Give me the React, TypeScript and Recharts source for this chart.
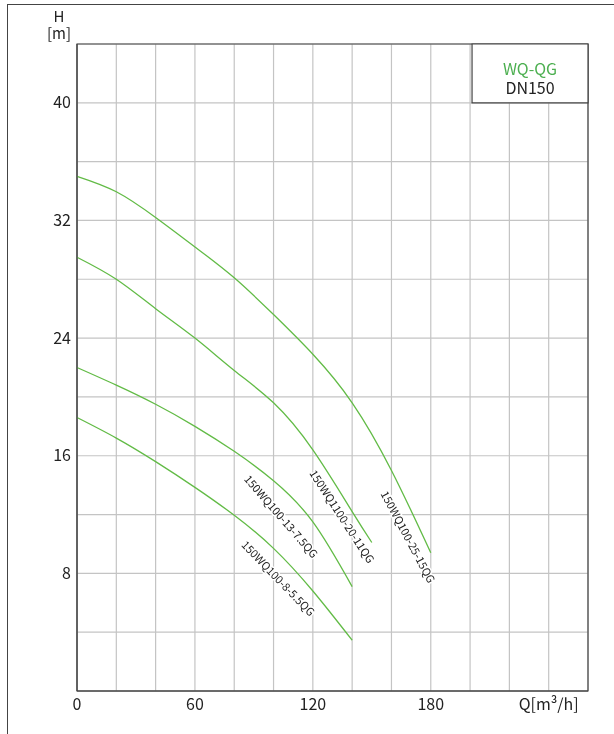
import React from "react";
import { LineChart, Line, XAxis, YAxis, CartesianGrid, ReferenceArea, ReferenceDot } from "recharts";

const FONT = '"Noto Sans CJK SC", "Noto Sans", sans-serif';

const q25 = [0, 20, 40, 60, 80, 100, 120, 140, 160, 180];
const h25 = [35, 33.95, 32.2, 30.2, 28.1, 25.6, 22.9, 19.6, 15.0, 9.4];
const q20 = [0, 20, 40, 60, 80, 100, 120, 140, 150];
const h20 = [29.5, 28.0, 26.0, 24.0, 21.8, 19.6, 16.4, 12.2, 10.1];
const q13 = [0, 20, 40, 60, 80, 100, 120, 140];
const h13 = [22.0, 20.8, 19.5, 18.0, 16.3, 14.3, 11.5, 7.1];
const q8 = [0, 20, 40, 60, 80, 100, 120, 140];
const h8 = [18.6, 17.2, 15.6, 13.85, 11.95, 9.7, 6.8, 3.45];

const curveNames = ["150WQ100-25-15QG", "150WQ1100-20-11QG", "150WQ100-13-7.5QG", "150WQ100-8-5.5QG"];
const labelQ = [168.8, 135.2, 104.2, 102.7];
const labelH = [10.5, 11.9, 11.9, 7.7];
const labelAngle = [62, 57, 49, 46];

const xTicks = [0, 20, 40, 60, 80, 100, 120, 140, 160, 180, 200, 220, 240, 260];
const yTicks = [0, 4, 8, 12, 16, 20, 24, 28, 32, 36, 40, 44];

const legendTitle = "WQ-QG";
const legendSub = "DN150";
const xAxisTitle = "Q[m³/h]";

const toData = (q: number[], h: number[]) => q.map((x, i) => ({ q: x, h: h[i] }));
const series = [toData(q25, h25), toData(q20, h20), toData(q13, h13), toData(q8, h8)];

const GREEN = "#62bb46";

export default function App() {
  return (
    <>
      <div
        style={{
          position: "fixed",
          left: 7,
          top: 4,
          width: 700,
          height: 800,
          borderLeft: "1.5px solid #444",
          borderTop: "1.5px solid #444",
          boxSizing: "border-box",
        }}
      />
      <div style={{ position: "fixed", left: 0, top: 0, width: 614, height: 734 }}>
        <LineChart width={614} height={734} margin={{ top: 44, right: 26, bottom: 13, left: 37 }}>
          <CartesianGrid stroke="#c4c4c4" strokeWidth={1.2} />
          <XAxis
            type="number"
            dataKey="q"
            domain={[0, 260]}
            ticks={xTicks}
            interval={0}
            height={30}
            stroke="#444"
            tickLine={false}
            tick={{ fill: "#222", fontSize: 16, fontFamily: FONT }}
            tickFormatter={(v: number) => (v === 240 ? xAxisTitle : v % 60 === 0 && v <= 180 ? String(v) : "")}
          />
          <YAxis
            type="number"
            dataKey="h"
            domain={[0, 44]}
            ticks={yTicks}
            interval={0}
            width={40}
            stroke="#444"
            tickLine={false}
            tickMargin={0}
            tick={{ fill: "#222", fontSize: 16, fontFamily: FONT }}
            tickFormatter={(v: number) => (v % 8 === 0 && v > 0 && v < 44 ? String(v) : "")}
            label={{
              content: (p: any) => {
                const vb = p.viewBox || { x: 37, y: 44, width: 40 };
                const cx = vb.x + vb.width - 18;
                return (
                  <g>
                    <text x={cx} y={vb.y - 22} textAnchor="middle" fontSize={15} fill="#222" fontFamily={FONT}>
                      H
                    </text>
                    <text x={cx} y={vb.y - 5} textAnchor="middle" fontSize={15} fill="#222" fontFamily={FONT}>
                      [m]
                    </text>
                  </g>
                );
              },
            }}
          />
          <ReferenceArea x1={0} x2={260} y1={0} y2={44} fill="none" fillOpacity={0} stroke="#444" strokeWidth={1.2} />
          <ReferenceArea x1={201} x2={260} y1={40} y2={44} fill="#fff" fillOpacity={1} stroke="#444" strokeWidth={1.2} />
          <ReferenceDot
            x={230.5}
            y={42}
            r={0}
            shape={(p: any) => (
              <g>
                <text x={p.cx} y={p.cy + 2} textAnchor="middle" fontSize={16} fill="#4caf50" fontFamily={FONT}>
                  {legendTitle}
                </text>
                <text x={p.cx} y={p.cy + 21} textAnchor="middle" fontSize={16} fill="#222" fontFamily={FONT}>
                  {legendSub}
                </text>
              </g>
            )}
          />
          {series.map((d, i) => (
            <Line
              key={curveNames[i]}
              data={d}
              dataKey="h"
              type="natural"
              stroke={GREEN}
              strokeWidth={1.3}
              dot={false}
              activeDot={false}
              isAnimationActive={false}
            />
          ))}
          {curveNames.map((name, i) => (
            <ReferenceDot
              key={"lbl" + name}
              x={labelQ[i]}
              y={labelH[i]}
              r={0}
              shape={(p: any) => (
                <text
                  x={p.cx}
                  y={p.cy}
                  textAnchor="middle"
                  dominantBaseline="central"
                  fontSize={11}
                  fill="#222"
                  stroke="#fff"
                  strokeWidth={3}
                  paintOrder="stroke"
                  fontFamily={FONT}
                  transform={`rotate(${labelAngle[i]}, ${p.cx}, ${p.cy})`}
                >
                  {name}
                </text>
              )}
            />
          ))}
        </LineChart>
      </div>
    </>
  );
}
